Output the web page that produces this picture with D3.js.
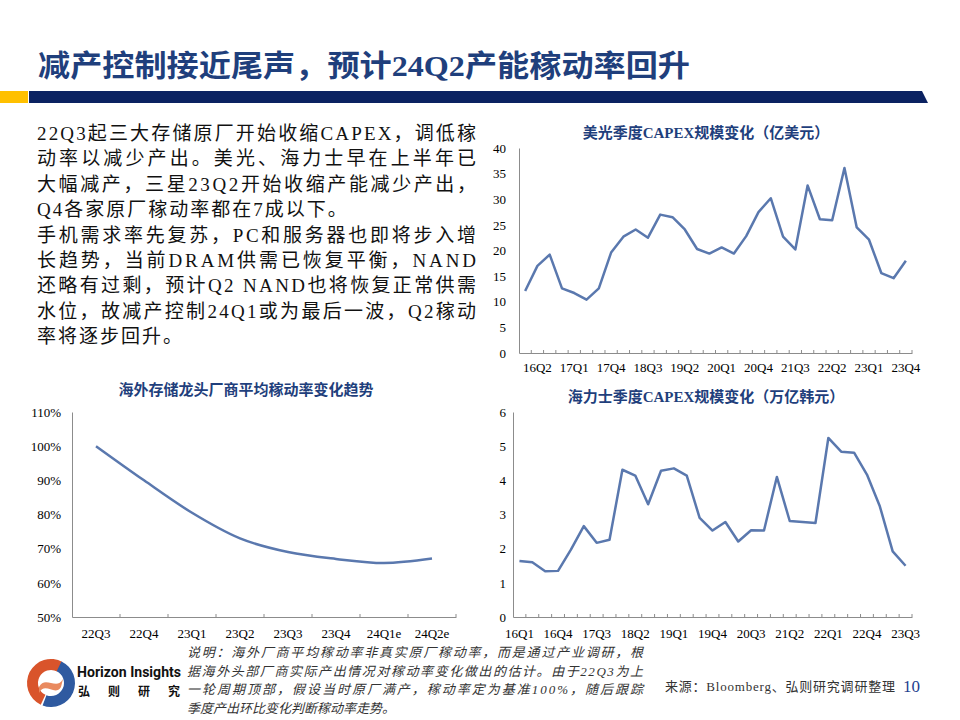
<!DOCTYPE html>
<html>
<head>
<meta charset="utf-8">
<script src="https://cdn.jsdelivr.net/npm/d3@7"></script>
<style>
body { margin: 0; background: #fff; }
text { font-family: "Times New Roman", "Liberation Serif", "Noto Sans CJK SC", serif; }
</style>
</head>
<body>
<script>
var width = 960,
    height = 720;

var pageTitle = '减产控制接近尾声，预计24Q2产能稼动率回升';

var bodyLines = [
    '22Q3起三大存储原厂开始收缩CAPEX，调低稼',
    '动率以减少产出。美光、海力士早在上半年已',
    '大幅减产，三星23Q2开始收缩产能减少产出，',
    'Q4各家原厂稼动率都在7成以下。',
    '手机需求率先复苏，PC和服务器也即将步入增',
    '长趋势，当前DRAM供需已恢复平衡，NAND',
    '还略有过剩，预计Q2 NAND也将恢复正常供需',
    '水位，故减产控制24Q1或为最后一波，Q2稼动',
    '率将逐步回升。'
];
var bodyJustify = [true, true, true, false, true, true, true, true, false];

var quarters = ['16Q1', '16Q2', '16Q3', '16Q4', '17Q1', '17Q2', '17Q3', '17Q4',
    '18Q1', '18Q2', '18Q3', '18Q4', '19Q1', '19Q2', '19Q3', '19Q4',
    '20Q1', '20Q2', '20Q3', '20Q4', '21Q1', '21Q2', '21Q3', '21Q4',
    '22Q1', '22Q2', '22Q3', '22Q4', '23Q1', '23Q2', '23Q3', '23Q4'];

// 美光 CAPEX (亿美元)
var micronCapex = [12.1, 17.0, 19.2, 12.6, 11.7, 10.4, 12.6, 19.6,
    22.7, 24.1, 22.5, 27.0, 26.5, 24.1, 20.3, 19.4,
    20.6, 19.4, 22.8, 27.5, 30.2, 22.7, 20.2, 32.7,
    26.1, 25.9, 36.1, 24.5, 22.1, 15.6, 14.6, 18.0];
var micronTicks = [0, 5, 10, 15, 20, 25, 30, 35, 40];

// 海力士 CAPEX (万亿韩元), 16Q1-23Q3
var hynixQuarters = quarters.slice(0, 31);
var hynixCapex = [1.64, 1.60, 1.34, 1.35, 1.97, 2.66, 2.17, 2.26,
    4.31, 4.14, 3.30, 4.28, 4.35, 4.14, 2.90, 2.53,
    2.78, 2.21, 2.54, 2.53, 4.10, 2.81, 2.78, 2.75,
    5.24, 4.84, 4.81, 4.17, 3.24, 1.92, 1.50];
var hynixTicks = [0, 1, 2, 3, 4, 5, 6];

// 平均稼动率
var utilQuarters = ['22Q3', '22Q4', '23Q1', '23Q2', '23Q3', '23Q4', '24Q1e', '24Q2e'];
var utilRate = [1.00, 0.90, 0.805, 0.73, 0.69, 0.67, 0.658, 0.671];
var utilTicks = [0.5, 0.6, 0.7, 0.8, 0.9, 1.0, 1.1];

var noteLines = [
    '说明：海外厂商平均稼动率非真实原厂稼动率，而是通过产业调研，根',
    '据海外头部厂商实际产出情况对稼动率变化做出的估计。由于22Q3为上',
    '一轮周期顶部，假设当时原厂满产，稼动率定为基准100%，随后跟踪',
    '季度产出环比变化判断稼动率走势。'
];

var navy = '#0b2261',
    titleBlue = '#1f3f7c',
    lineBlue = '#5a78ae',
    axisGray = '#8c8c8c';

var svg = d3.select('body')
    .append('svg')
    .attr('width', width)
    .attr('height', height);

// header
svg.append('rect')
    .attr('x', 0).attr('y', 91)
    .attr('width', 28).attr('height', 12)
    .attr('fill', '#ffc000');

svg.append('path')
    .attr('d', 'M29,91 L922,91 L928,103 L29,103 Z')
    .attr('fill', navy);

svg.append('text')
    .attr('x', 38)
    .attr('y', 76)
    .attr('textLength', 652)
    .attr('lengthAdjust', 'spacingAndGlyphs')
    .style('font-size', '30px')
    .style('font-weight', 'bold')
    .attr('fill', titleBlue)
    .text(pageTitle);

// body text
svg.append('g')
    .selectAll('text')
    .data(bodyLines)
    .enter()
    .append('text')
    .attr('x', 37)
    .attr('y', function (d, i) { return 140 + i * 25.4; })
    .attr('textLength', function (d, i) { return bodyJustify[i] ? 441 : null; })
    .attr('lengthAdjust', 'spacing')
    .style('font-size', '19px')
    .style('letter-spacing', '2px')
    .attr('fill', '#111')
    .text(function (d) { return d; });

function lineChart(cfg) {
    var g = svg.append('g');

    var x = d3.scaleBand()
        .domain(cfg.categories)
        .range([cfg.left, cfg.right]);

    var y = d3.scaleLinear()
        .domain([cfg.ticks[0], cfg.ticks[cfg.ticks.length - 1]])
        .range([cfg.bottom, cfg.top]);

    g.append('text')
        .attr('x', cfg.titleX)
        .attr('y', cfg.titleY)
        .attr('text-anchor', 'middle')
        .attr('dominant-baseline', 'central')
        .style('font-size', '15px')
        .style('font-weight', 'bold')
        .attr('fill', titleBlue)
        .text(cfg.title);

    // y axis
    var yAxis = g.append('g')
        .attr('transform', 'translate(' + cfg.left + ',0)')
        .call(d3.axisLeft(y)
            .tickValues(cfg.ticks)
            .tickSize(0)
            .tickPadding(cfg.yPad)
            .tickFormat(cfg.yFormat));
    yAxis.select('.domain').attr('stroke', axisGray);
    yAxis.selectAll('text')
        .style('font-size', '13px')
        .attr('fill', '#000');

    // x axis
    var xAxis = g.append('g')
        .attr('transform', 'translate(0,' + cfg.bottom + ')')
        .call(d3.axisBottom(x)
            .tickSize(0)
            .tickPadding(cfg.xPad)
            .tickFormat(function (d, i) {
                return (i - cfg.labelStart) % cfg.labelStep === 0 && i >= cfg.labelStart ? d : '';
            }));
    xAxis.select('.domain').attr('stroke', axisGray);
    xAxis.selectAll('text')
        .style('font-size', '13px')
        .attr('fill', '#000');

    // inward tick marks at category boundaries
    var bounds = cfg.categories.map(function (d) { return x(d); }).slice(1);
    bounds.push(cfg.right);
    g.append('g')
        .selectAll('line')
        .data(bounds)
        .enter()
        .append('line')
        .attr('x1', function (d) { return d; })
        .attr('x2', function (d) { return d; })
        .attr('y1', cfg.bottom)
        .attr('y2', cfg.bottom - 3)
        .attr('stroke', axisGray);

    var line = d3.line()
        .x(function (d, i) { return x(cfg.categories[i]) + x.bandwidth() / 2; })
        .y(function (d) { return y(d); })
        .curve(cfg.curve || d3.curveLinear);

    g.append('path')
        .datum(cfg.values)
        .attr('d', line)
        .attr('fill', 'none')
        .attr('stroke', lineBlue)
        .attr('stroke-width', 2.5)
        .attr('stroke-linejoin', 'round');
}

lineChart({
    title: '美光季度CAPEX规模变化（亿美元）',
    titleX: 706, titleY: 133,
    categories: quarters,
    values: micronCapex,
    ticks: micronTicks,
    left: 519, right: 912, top: 148, bottom: 353,
    yPad: 13, xPad: 10,
    labelStart: 1, labelStep: 3,
    yFormat: d3.format('d')
});

lineChart({
    title: '海力士季度CAPEX规模变化（万亿韩元）',
    titleX: 706, titleY: 397,
    categories: hynixQuarters,
    values: hynixCapex,
    ticks: hynixTicks,
    left: 513, right: 912, top: 412, bottom: 617,
    yPad: 7, xPad: 12,
    labelStart: 0, labelStep: 3,
    yFormat: d3.format('d')
});

lineChart({
    title: '海外存储龙头厂商平均稼动率变化趋势',
    titleX: 246, titleY: 390,
    categories: utilQuarters,
    values: utilRate,
    ticks: utilTicks,
    left: 72, right: 456, top: 412, bottom: 617,
    yPad: 11, xPad: 12,
    labelStart: 0, labelStep: 1,
    yFormat: d3.format('.0%'),
    curve: d3.curveCardinal
});

// footer logo
var logo = svg.append('g').attr('transform', 'translate(51,683)');
var arc = d3.arc();
logo.append('path')
    .attr('d', arc({innerRadius: 13, outerRadius: 24, startAngle: -2.7, endAngle: 0.5}))
    .attr('fill', '#d9542b');
logo.append('path')
    .attr('d', arc({innerRadius: 13, outerRadius: 24, startAngle: 0.45, endAngle: 3.5}))
    .attr('fill', '#2f5aa0');
logo.append('path')
    .attr('d', 'M-12,4 C-6,-8 6,8 12,-4 L10,4 C4,14 -6,-2 -12,10 Z')
    .attr('fill', '#e98a5f');

svg.append('text')
    .attr('x', 77).attr('y', 677)
    .attr('textLength', 104)
    .attr('lengthAdjust', 'spacingAndGlyphs')
    .style('font-family', 'Roboto, "Liberation Sans", sans-serif')
    .style('font-size', '15px')
    .style('font-weight', 'bold')
    .attr('fill', '#111')
    .text('Horizon Insights');

svg.append('text')
    .attr('x', 78).attr('y', 696)
    .attr('textLength', 102)
    .attr('lengthAdjust', 'spacing')
    .style('font-family', '"Noto Sans CJK SC", sans-serif')
    .style('font-size', '12px')
    .style('font-weight', 'bold')
    .attr('fill', '#111')
    .text('弘则研究');

svg.append('g')
    .selectAll('text')
    .data(noteLines)
    .enter()
    .append('text')
    .attr('x', 187)
    .attr('y', function (d, i) { return 657 + i * 18.5; })
    .attr('textLength', function (d, i) { return i < 3 ? 456 : null; })
    .attr('lengthAdjust', 'spacing')
    .style('font-size', '13px')
    .style('font-style', 'italic')
    .attr('fill', '#333')
    .text(function (d) { return d; });

svg.append('text')
    .attr('x', 665).attr('y', 691)
    .attr('textLength', 230)
    .attr('lengthAdjust', 'spacing')
    .style('font-size', '13px')
    .attr('fill', '#333')
    .text('来源：Bloomberg、弘则研究调研整理');

svg.append('text')
    .attr('x', 903).attr('y', 692)
    .style('font-size', '17px')
    .attr('fill', '#1f3f8f')
    .text('10');
</script>
</body>
</html>
